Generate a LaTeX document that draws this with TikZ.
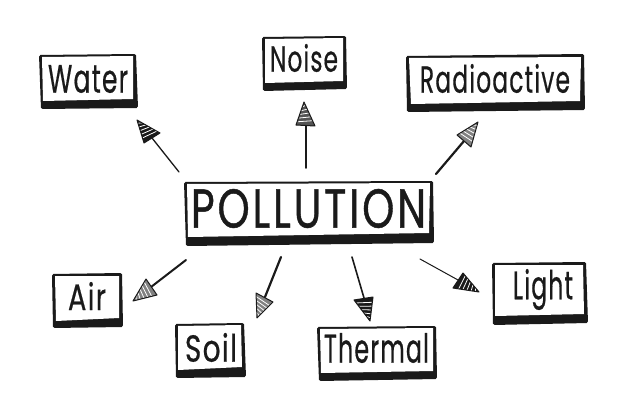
\documentclass[tikz,border=0pt]{standalone}
\usepackage{fontspec}
\usepackage{graphicx}
\setmainfont{Poppins}
\newfontfamily\handfont[LetterSpace=5,FakeBold=0.6]{Poppins}
\newfontfamily\titlefont[LetterSpace=7,FakeBold=0.9]{Poppins}
\usetikzlibrary{calc}
\definecolor{ink}{HTML}{1A1A1A}
\tikzset{
  shadow part/.style={fill=ink,rounded corners=1.5pt},
  face part/.style={fill=white},
  label part/.style={inner sep=0pt,outer sep=0pt,text=ink,anchor=center},
  shaft/.style={draw=ink,line cap=round},
  head edge/.style={draw=ink,line width=1pt,line join=round},
}
\newcommand{\sketchbox}[8]{%
  \fill[shadow part] #1 -- #2 -- #3 -- #4 -- cycle;
  \fill[face part] #5 -- #6 -- #7 -- #8 -- cycle;
}
% name, x1, y1, x2, y2, text
\newcommand{\sketchlabel}[6]{%
  \pgfmathsetmacro{\lw}{#4-#2}\pgfmathsetmacro{\lh}{#5-#3}%
  \node[label part] (#1) at ({(#2+#4)/2},{(#3+#5)/2}) {\resizebox*{\lw pt}{\lh pt}{#6}};
}
% name, start, neck, tip, corner, corner, shaft width, head tone
\newcommand{\sketcharrow}[8]{%
  \coordinate (#1s) at #2; \coordinate (#1n) at #3; \coordinate (#1t) at #4;
  \coordinate (#1a) at #5; \coordinate (#1b) at #6;
  \draw[shaft,line width=#7] (#1s) -- (#1n);
  \begin{scope}
    \clip (#1t) -- (#1a) -- (#1b) -- cycle;
    \fill[#8] (#1t) -- (#1a) -- (#1b) -- cycle;
    \foreach \k in {0.14,0.30,0.46,0.62,0.78}
      \draw[white,line width=0.8pt] ($(#1a)!\k!(#1t)$) -- ($(#1b)!\k+0.08!(#1t)$);
  \end{scope}
  \draw[head edge] (#1t) -- (#1a) -- (#1b) -- cycle;
}
\begin{document}
\begin{tikzpicture}[x=1pt,y=-1pt]
\useasboundingbox (0,0) rectangle (626,417);
\fill[white] (0,0) rectangle (626,417);

\sketchbox{(39,55)}{(136,54)}{(138,108)}{(41,109)}{(42,57)}{(133,56)}{(133,99)}{(43,101)}
\sketchbox{(262,37)}{(346,36)}{(347,89)}{(263,91)}{(265,39)}{(343,38)}{(343,81)}{(265,83)}
\sketchbox{(406,56)}{(584,54)}{(585,110)}{(407,112)}{(409,58)}{(581,57)}{(580,101)}{(411,104)}
\sketchbox{(184,182)}{(433,181)}{(434,243)}{(186,246)}{(187,184)}{(430,183)}{(429,233)}{(188,237)}
\sketchbox{(52,274)}{(122,273)}{(123,327)}{(53,328)}{(55,276)}{(119,276)}{(119,318)}{(56,321)}
\sketchbox{(175,324)}{(244,323)}{(246,377)}{(176,378)}{(178,326)}{(241,325)}{(242,367)}{(178,370)}
\sketchbox{(317,327)}{(436,326)}{(437,379)}{(319,381)}{(320,329)}{(433,328)}{(433,371)}{(321,373)}
\sketchbox{(492,263)}{(586,262)}{(588,323)}{(493,325)}{(495,265)}{(583,265)}{(584,314)}{(495,316)}

\sketchlabel{water}{48}{65}{128}{93}{\handfont Water}
\sketchlabel{noise}{270}{44}{338}{72}{\handfont Noise}
\sketchlabel{radio}{420}{64}{570}{93}{\handfont Radioactive}
\sketchlabel{pollution}{191}{189}{426}{228}{\titlefont POLLUTION}
\sketchlabel{air}{68}{282}{106}{310}{\handfont Air}
\sketchlabel{soil}{185}{333}{237}{362}{\handfont Soil}
\sketchlabel{thermal}{324}{333}{429}{363}{\handfont Thermal}
\sketchlabel{light}{513}{269}{573}{310}{\handfont Light}

\sketcharrow{w}{(179,172)}{(152,138)}{(137,120)}{(160,133)}{(144,143)}{1.3pt}{ink}
\sketcharrow{n}{(306,168)}{(306,126)}{(304,102)}{(296,125)}{(315,126)}{1.6pt}{ink!75}
\sketcharrow{r}{(436,174)}{(464,141)}{(478,122)}{(457,135)}{(471,147)}{2.2pt}{ink!55}
\sketcharrow{a}{(186,260)}{(151,287)}{(133,301)}{(146,279)}{(157,295)}{2pt}{ink!55}
\sketcharrow{s}{(281,257)}{(265,297)}{(257,318)}{(256,293)}{(273,302)}{2.2pt}{ink!55}
\sketcharrow{t}{(352,257)}{(364,298)}{(370,321)}{(354,300)}{(373,297)}{1.6pt}{ink}
\sketcharrow{l}{(420,259)}{(458,280)}{(479,292)}{(463,273)}{(453,288)}{1pt}{ink}
\end{tikzpicture}
\end{document}
